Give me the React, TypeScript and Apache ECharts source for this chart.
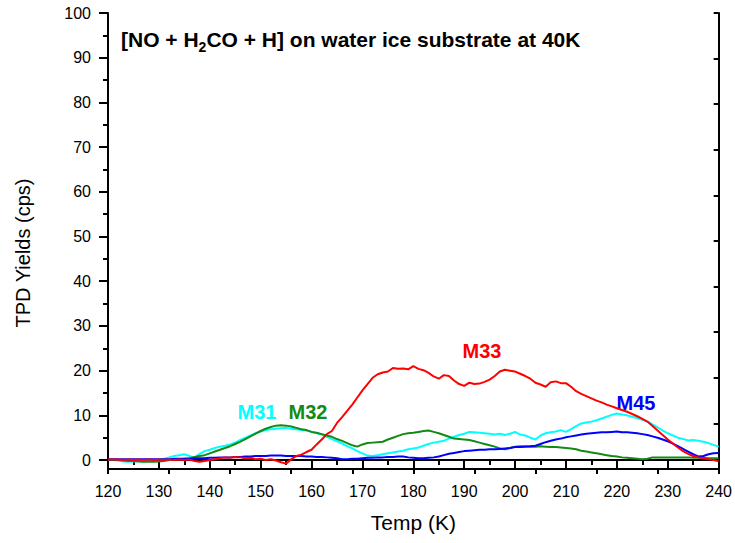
import React, { useEffect, useRef } from "react";
import * as echarts from "echarts";

const temps: number[] = [];
for (let t = 120; t <= 240; t++) temps.push(t);

const m33: number[] = [
  0.1, 0.1, 0.1, 0.0, 0.1, 0.0, 0.1, 0.0, 0.1, 0.0,
  0.1, 0.0, 0.1, 0.0, 0.1, 0.0, 0.1, -0.2, -0.4, -0.2,
  0.0, 0.2, 0.4, 0.6, 0.5, 0.7, 0.6, 0.4, 0.5, 0.2,
  0.3, 0.0, 0.2, -0.1, -0.5, -0.8, 0.2, 0.9, 1.2, 1.8,
  2.3, 3.5, 4.6, 5.8, 6.5, 8.3, 9.6, 11.0, 12.4, 14.0,
  15.6, 17.0, 18.4, 19.2, 19.6, 19.8, 20.6, 20.4, 20.5, 20.3,
  21.0, 20.4, 20.1, 19.5, 18.7, 18.2, 19.0, 18.8, 17.8, 17.0,
  16.6, 17.3, 17.0, 17.1, 17.5, 18.0, 18.8, 19.8, 20.2, 20.0,
  19.8, 19.3, 18.8, 18.2, 17.3, 16.9, 16.4, 17.4, 17.6, 17.2,
  17.2, 16.4, 15.4, 14.8, 14.3, 13.8, 13.3, 12.9, 12.4, 12.0,
  11.6, 11.2, 10.8, 10.3, 9.8, 9.2, 8.6, 7.6, 6.6, 5.6,
  4.6, 3.7, 2.8, 2.0, 1.4, 0.9, 0.6, 0.4, 0.2, 0.0,
  -0.3,
];

const m31: number[] = [
  0.0, 0.0, -0.1, -0.3, -0.4, -0.3, -0.2, -0.3, -0.1, 0.0,
  0.1, 0.3, 0.6, 0.9, 1.1, 1.3, 0.9, 0.5, 1.4, 2.0,
  2.3, 2.7, 3.0, 3.2, 3.5, 3.9, 4.5, 5.0, 5.5, 6.0,
  6.4, 6.7, 6.9, 7.0, 7.1, 7.2, 7.0, 6.9, 6.7, 6.6,
  6.3, 6.0, 5.7, 5.2, 4.7, 4.2, 3.7, 3.1, 2.6, 2.0,
  1.5, 1.0, 0.9, 1.1, 1.3, 1.5, 1.7, 1.9, 2.1, 2.4,
  2.6, 2.8, 3.2, 3.6, 3.9, 4.1, 4.3, 4.8, 5.2, 5.6,
  5.9, 6.3, 6.2, 6.1, 6.0, 5.9, 5.7, 5.9, 5.6, 5.9,
  6.3, 5.7, 5.5, 5.0, 4.6, 5.5, 6.0, 6.2, 6.4, 6.7,
  6.3, 6.9, 7.6, 8.2, 8.4, 8.6, 8.9, 9.3, 9.7, 10.1,
  10.4, 10.2, 10.0, 9.7, 9.4, 9.0, 8.6, 8.0, 7.3, 6.6,
  6.0, 5.5, 5.0, 4.7, 4.4, 4.5, 4.3, 4.1, 3.8, 3.4,
  3.0,
];

const m32: number[] = [
  0.0, 0.0, 0.0, -0.1, -0.2, -0.2, -0.3, -0.4, -0.4, -0.4,
  -0.3, -0.2, 0.0, 0.1, 0.2, 0.3, 0.4, 0.7, 0.9, 1.1,
  1.5, 1.9, 2.3, 2.7, 3.1, 3.6, 4.1, 4.7, 5.3, 5.9,
  6.5, 7.0, 7.4, 7.7, 7.8, 7.7, 7.5, 7.2, 6.9, 6.7,
  6.3, 6.1, 5.8, 5.5, 5.2, 4.7, 4.3, 3.8, 3.3, 3.0,
  3.5, 3.8, 3.9, 4.0, 4.1, 4.6, 5.0, 5.4, 5.8, 6.0,
  6.1, 6.3, 6.5, 6.6, 6.3, 6.0, 5.6, 5.2, 4.8, 4.7,
  4.6, 4.5, 4.2, 3.9, 3.6, 3.3, 3.0, 2.6, 2.4, 2.7,
  3.0, 3.1, 3.1, 3.0, 3.0, 3.1, 3.0, 2.9, 2.9, 2.8,
  2.7, 2.6, 2.4, 2.1, 1.9, 1.7, 1.5, 1.3, 1.1, 0.9,
  0.8, 0.6, 0.5, 0.4, 0.3, 0.2, 0.3, 0.6, 0.6, 0.6,
  0.6, 0.6, 0.6, 0.6, 0.6, 0.5, 0.5, 0.5, 0.4, 0.4,
  0.4,
];

const m45: number[] = [
  0.2, 0.2, 0.2, 0.2, 0.2, 0.2, 0.2, 0.2, 0.2, 0.2,
  0.2, 0.2, 0.2, 0.3, 0.3, 0.3, 0.3, 0.4, 0.4, 0.4,
  0.5, 0.5, 0.6, 0.6, 0.6, 0.7, 0.7, 0.8, 0.8, 0.9,
  0.9, 0.9, 1.0, 1.0, 1.0, 0.9, 0.9, 0.9, 0.9, 0.8,
  0.8, 0.7, 0.7, 0.6, 0.5, 0.4, 0.2, 0.2, 0.3, 0.3,
  0.4, 0.5, 0.5, 0.6, 0.6, 0.7, 0.7, 0.8, 0.8, 0.6,
  0.5, 0.4, 0.4, 0.5, 0.6, 0.8, 1.1, 1.4, 1.6, 1.8,
  2.0, 2.1, 2.2, 2.3, 2.3, 2.4, 2.4, 2.5, 2.6, 2.7,
  2.9, 2.9, 3.0, 3.1, 3.2, 3.6, 4.0, 4.3, 4.6, 4.8,
  5.1, 5.3, 5.5, 5.7, 5.9, 6.0, 6.1, 6.2, 6.2, 6.3,
  6.4, 6.2, 6.2, 6.1, 6.0, 5.8, 5.6, 5.3, 5.0, 4.6,
  4.2, 3.7, 3.1, 2.5, 1.9, 1.3, 0.8, 0.9, 1.3, 1.5,
  1.6,
];

const yTickValues = [0, 10, 20, 30, 40, 50, 60, 70, 80, 90, 100];
const yMinorValues = [5, 15, 25, 35, 45, 55, 65, 75, 85, 95];

const seriesDefs = [
  { name: "M31", data: m31, color: "#00ffff" },
  { name: "M32", data: m32, color: "#138a13" },
  { name: "M45", data: m45, color: "#0000ff" },
  { name: "M33", data: m33, color: "#ff0000" },
];

const FONT = "Liberation Sans, Arial, sans-serif";

export default function App() {
  const ref = useRef<HTMLDivElement>(null);
  useEffect(() => {
    if (!ref.current) return;
    const chart = echarts.init(ref.current, null, { renderer: "svg" });
    const axisLine = { show: true, lineStyle: { color: "#000", width: 2 } };
    const labelStyle = (text: string, color: string, x: number, y: number) => ({
      type: "text",
      x,
      y,
      style: {
        text,
        fill: color,
        fontSize: 20,
        fontWeight: "bold",
        fontFamily: FONT,
        align: "center",
        verticalAlign: "middle",
      },
    });
    const option: any = {
      animation: false,
      backgroundColor: "#fff",
      grid: { left: 108, right: 14, top: 13, bottom: 74, containLabel: false },
      xAxis: [
        {
          type: "value",
          min: 120,
          max: 240,
          interval: 10,
          position: "bottom",
          axisLine,
          axisTick: { show: true, inside: false, length: 9, lineStyle: { color: "#000", width: 2 } },
          minorTick: { show: true, splitNumber: 2, length: 5, lineStyle: { color: "#000", width: 2 } },
          axisLabel: { color: "#000", fontSize: 16, fontFamily: FONT, margin: 14 },
          splitLine: { show: false },
          name: "Temp (K)",
          nameLocation: "middle",
          nameGap: 43,
          nameTextStyle: { color: "#000", fontSize: 21, fontFamily: FONT },
        },
        {
          type: "value",
          min: 0,
          max: 10,
          interval: 1,
          position: "top",
          axisLine,
          axisTick: { show: true, inside: true, length: 5, lineStyle: { color: "#000", width: 2 } },
          axisLabel: { show: false },
          splitLine: { show: false },
        },
      ],
      yAxis: [
        {
          type: "value",
          min: -2,
          max: 100,
          position: "left",
          axisLine,
          axisTick: {
            show: true,
            inside: false,
            length: 9,
            customValues: yTickValues,
            lineStyle: { color: "#000", width: 2 },
          },
          axisLabel: {
            color: "#000",
            fontSize: 16,
            fontFamily: FONT,
            margin: 17,
            customValues: yTickValues,
          },
          splitLine: { show: false },
        },
        {
          type: "value",
          min: 0,
          max: 10,
          interval: 1,
          position: "right",
          axisLine,
          axisTick: { show: true, inside: true, length: 5, lineStyle: { color: "#000", width: 2 } },
          axisLabel: { show: false },
          splitLine: { show: false },
        },
        {
          type: "value",
          min: -2,
          max: 100,
          position: "left",
          axisLine: { show: false },
          axisTick: {
            show: true,
            inside: false,
            length: 5,
            customValues: yMinorValues,
            lineStyle: { color: "#000", width: 2 },
          },
          axisLabel: { show: false },
          splitLine: { show: false },
        },
      ],
      series: seriesDefs.map((s) => ({
        type: "line",
        name: s.name,
        xAxisIndex: 0,
        yAxisIndex: 0,
        data: temps.map((t, i) => [t, s.data[i]]),
        showSymbol: false,
        symbol: "none",
        lineStyle: { color: s.color, width: 2 },
        itemStyle: { color: s.color },
        clip: true,
      })),
      graphic: [
        {
          type: "text",
          x: 121,
          y: 39,
          style: {
            text: "[NO + H{sub|2}CO + H] on water ice substrate at 40K",
            rich: {
              sub: {
                fontSize: 14,
                fontWeight: "bold",
                fontFamily: FONT,
                verticalAlign: "bottom",
                padding: [16, 0, 0, 0],
              },
            },
            fontSize: 21,
            fontWeight: "bold",
            fontFamily: FONT,
            fill: "#000",
            verticalAlign: "middle",
          },
        },
        {
          type: "text",
          x: 23,
          y: 253,
          rotation: Math.PI / 2,
          style: {
            text: "TPD Yields (cps)",
            fontSize: 20,
            fontFamily: FONT,
            fill: "#000",
            align: "center",
            verticalAlign: "middle",
          },
        },
        labelStyle("M31", "#00ffff", 257, 412),
        labelStyle("M32", "#138a13", 308, 412),
        labelStyle("M33", "#ff0000", 482, 351),
        labelStyle("M45", "#0000ff", 636, 403),
      ],
    };
    chart.setOption(option);
    return () => chart.dispose();
  }, []);
  return (
    <div
      ref={ref}
      style={{ position: "fixed", left: 0, top: 0, width: 735, height: 543, background: "#fff" }}
    />
  );
}
